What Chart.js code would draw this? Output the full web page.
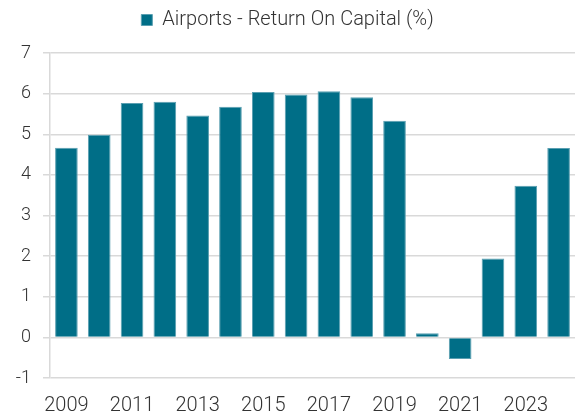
<!DOCTYPE html>
<html>
<head>
<meta charset="utf-8">
<script src="https://cdn.jsdelivr.net/npm/chart.js@4.4.1/dist/chart.umd.min.js"></script>
<style>
  html, body { margin: 0; padding: 0; background: #fff; }
  #wrap { width: 580px; height: 418px; }
</style>
</head>
<body>
<div id="wrap"><canvas id="chart"></canvas></div>
<script>
const years = ['2009', '2010', '2011', '2012', '2013', '2014', '2015', '2016',
    '2017', '2018', '2019', '2020', '2021', '2022', '2023', '2024'];
const returnOnCapital = [4.67, 4.99, 5.77, 5.80, 5.46, 5.68, 6.04, 5.98,
    6.06, 5.91, 5.33, 0.10, -0.53, 1.94, 3.73, 4.66];
const yTicks = [-1, 0, 1, 2, 3, 4, 5, 6, 7];

const fontName = 'Roboto';
const textColor = '#333333';
const gridColor = '#d9d9d9';

// push the plot down a bit below the legend
const legendSpacer = {
    id: 'legendSpacer',
    beforeInit(chart) {
        const fit = chart.legend.fit;
        chart.legend.fit = function () {
            fit.bind(chart.legend)();
            this.height += 13;
        };
    }
};

const ctx = document.getElementById('chart');

new Chart(ctx, {
    type: 'bar',
    data: {
        labels: years,
        datasets: [{
            label: 'Airports - Return On Capital (%)',
            data: returnOnCapital,
            backgroundColor: '#006e87',
            borderColor: '#5a9fb1',
            borderWidth: 1,
            categoryPercentage: 1,
            barPercentage: 0.69
        }]
    },
    plugins: [legendSpacer],
    options: {
        responsive: true,
        maintainAspectRatio: false,
        animation: false,
        layout: { padding: { left: 0, right: 5, top: 0, bottom: 0 } },
        plugins: {
            legend: {
                position: 'top',
                labels: {
                    boxWidth: 11,
                    boxHeight: 11,
                    color: textColor,
                    font: { family: fontName, size: 20, weight: 300 },
                    padding: 10
                }
            },
            tooltip: { enabled: false }
        },
        scales: {
            x: {
                afterFit: function (axis) {
                    axis.height = 40;
                },
                grid: { display: false, drawTicks: false },
                border: { display: false },
                ticks: {
                    color: textColor,
                    font: { family: fontName, size: 20, weight: 300, lineHeight: 1 },
                    autoSkip: false,
                    maxRotation: 0,
                    padding: 18,
                    callback: function (val, i) {
                        return i % 2 === 0 ? years[i] : '';
                    }
                }
            },
            y: {
                min: -1,
                max: 7,
                afterBuildTicks: function (axis) {
                    axis.ticks = yTicks.map(v => ({ value: v }));
                },
                afterFit: function (axis) {
                    axis.width = 50;
                },
                grid: {
                    color: gridColor,
                    lineWidth: 1.5,
                    tickLength: 7
                },
                border: { display: true, color: gridColor, width: 1.5 },
                ticks: {
                    color: textColor,
                    font: { family: fontName, size: 18, weight: 300 },
                    padding: 12
                }
            }
        }
    }
});
</script>
</body>
</html>
